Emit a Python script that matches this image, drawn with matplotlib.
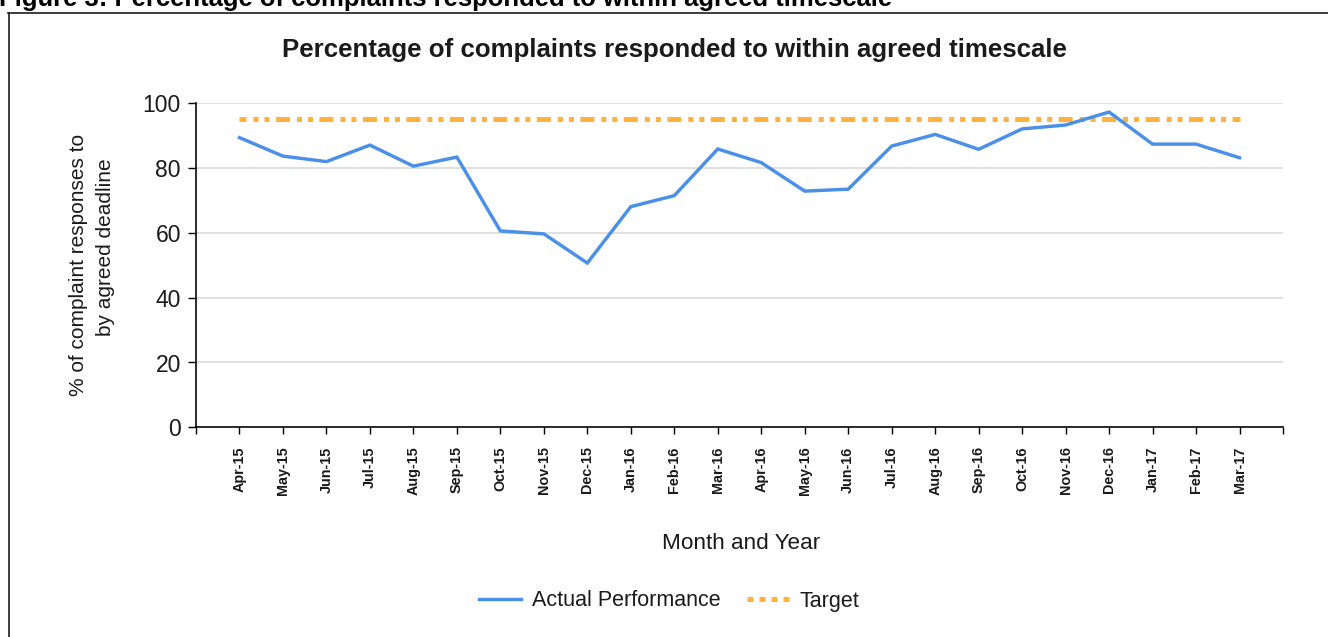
import matplotlib
matplotlib.use('Agg')
import matplotlib.pyplot as plt
from matplotlib.lines import Line2D

plt.rcParams['font.family'] = ['Liberation Sans', 'DejaVu Sans']
plt.rcParams['lines.scale_dashes'] = False

# ---------------- data ----------------
months = ['Apr-15', 'May-15', 'Jun-15', 'Jul-15', 'Aug-15', 'Sep-15', 'Oct-15',
          'Nov-15', 'Dec-15', 'Jan-16', 'Feb-16', 'Mar-16', 'Apr-16', 'May-16',
          'Jun-16', 'Jul-16', 'Aug-16', 'Sep-16', 'Oct-16', 'Nov-16', 'Dec-16',
          'Jan-17', 'Feb-17', 'Mar-17']
actual = [89.4, 83.7, 82.0, 87.1, 80.6, 83.4, 60.6, 59.7, 50.7, 68.1, 71.5, 85.9,
          81.7, 72.9, 73.5, 86.8, 90.4, 85.8, 92.1, 93.3, 97.3, 87.4, 87.4, 83.2]
target = [95, 95, 95, 95, 95, 95, 95, 95, 95, 95, 95, 95,
          95, 95, 95, 95, 95, 95, 95, 95, 95, 95, 95, 95]
yticks = [0, 20, 40, 60, 80, 100]

title = 'Percentage of complaints responded to within agreed timescale'
fig_caption = 'Figure 3: Percentage of complaints responded to within agreed timescale'
ylabel1 = '% of complaint responses to'
ylabel2 = 'by agreed deadline'
xlabel = 'Month and Year'
series_names = ['Actual Performance', 'Target']

# ---------------- style ----------------
W, H = 1328, 637
DPI = 100
PX = 72.0 / DPI  # points per pixel
BLUE = '#4A8FE8'
ORANGE = '#FFB23E'
TXT = '#1a1a1a'

fig = plt.figure(figsize=(W / DPI, H / DPI), dpi=DPI)
fig.patch.set_facecolor('white')

ax_l, ax_r, ax_t, ax_b = 196, 1283, 103.3, 427.3
ax = fig.add_axes([ax_l / W, 1 - ax_b / H, (ax_r - ax_l) / W, (ax_b - ax_t) / H])

x = list(range(len(months)))
ax.set_xlim(-1, len(months))
ax.set_ylim(0, 100)

# target line: dash-dot-dot pattern with period equal to category spacing
sp = (ax_r - ax_l) / (len(months) + 1)  # px per category
dash, gap1, dot, gap2 = 14, 7, 5, 6
gap3 = sp - (dash + gap1 + dot + gap2 + dot)
pattern = tuple(v * PX for v in (dash, gap1, dot, gap2, dot, gap3))
ax.plot(x, target, color=ORANGE, lw=5 * PX, linestyle=(7 * PX, pattern),
        dash_capstyle='butt', zorder=3)
ax.plot(x, actual, color=BLUE, lw=3.4 * PX, solid_joinstyle='miter', zorder=4)

ax.set_xticks(list(range(-1, len(months) + 1)))
ax.set_xticklabels([''] + months + [''], rotation=90, fontsize=10.4,
                   fontweight='bold', color=TXT)
ax.set_yticks(yticks)
ax.set_yticklabels([str(v) for v in yticks], fontsize=16.5, color=TXT)
ax.tick_params(axis='x', length=7 * PX, width=1.4 * PX, pad=12 * PX, colors='black')
ax.tick_params(axis='x', labelcolor=TXT)
ax.tick_params(axis='y', length=8 * PX, width=1.4 * PX, pad=7 * PX, colors='black')
ax.tick_params(axis='y', labelcolor=TXT)

for s in ['top', 'right']:
    ax.spines[s].set_visible(False)
for s in ['left', 'bottom']:
    ax.spines[s].set_linewidth(1.6 * PX)
    ax.spines[s].set_color('black')
ax.yaxis.grid(True, color='#d9d9d9', lw=1.6 * PX)
ax.set_axisbelow(True)

# ---------------- texts ----------------
def fit_width(t, target_px):
    r = fig.canvas.get_renderer()
    w = t.get_window_extent(r).width
    t.set_fontsize(t.get_fontsize() * target_px / w)

t_title = fig.text(674 / W, 1 - 57 / H, title, ha='center', va='baseline',
                   fontsize=16, fontweight='bold', color=TXT)
t_cap = fig.text(-1 / W, 1 - 6 / H, fig_caption, ha='left', va='baseline',
                 fontsize=14, fontweight='bold', color='black')
t_y1 = fig.text(79 / W, 1 - 265 / H, ylabel1, rotation=90, ha='center', va='center',
                fontsize=15, color=TXT)
t_y2 = fig.text(106 / W, 1 - 247.5 / H, ylabel2, rotation=90, ha='center', va='center',
                fontsize=15, color=TXT)
t_x = fig.text(741 / W, 1 - 549 / H, xlabel, ha='center', va='baseline',
               fontsize=16, color=TXT)

fig.canvas.draw()
fit_width(t_title, 784)
fit_width(t_cap, 895)
fit_width(t_x, 158)

# ---------------- legend ----------------
fs_leg = 15.5
em = fs_leg / PX  # px per em
h_actual = Line2D([], [], color=BLUE, lw=3.4 * PX)
h_target = Line2D([], [], color=ORANGE, lw=5 * PX, linestyle=(0, (6 * PX, 6 * PX)),
                  dash_capstyle='butt')
fig.legend([h_actual, h_target], series_names, loc='center',
           bbox_to_anchor=(669.5 / W, 1 - 601 / H), ncol=2, frameon=False,
           fontsize=fs_leg, handlelength=42 / em, handletextpad=11 / em,
           columnspacing=26 / em, labelcolor=TXT, borderpad=0, borderaxespad=0)

# ---------------- border ----------------
fig.add_artist(Line2D([8.5 / W, 8.5 / W], [1 - 13 / H, 0], transform=fig.transFigure,
                      color='#222222', lw=1.7 * PX))
fig.add_artist(Line2D([8 / W, 1.0], [1 - 13 / H, 1 - 13 / H], transform=fig.transFigure,
                      color='#222222', lw=1.7 * PX))

fig.savefig('out.png', dpi=DPI)
